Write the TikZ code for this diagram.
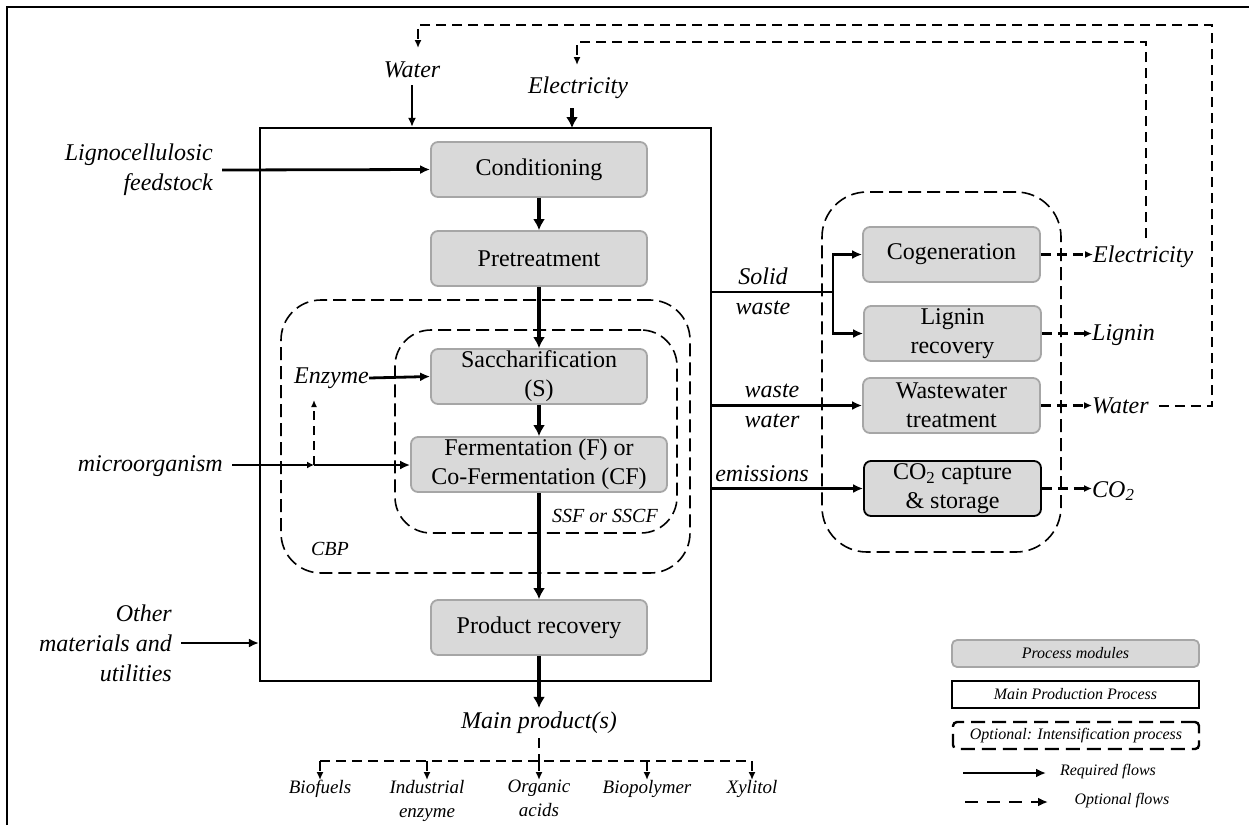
\documentclass[tikz,border=0pt]{standalone}
\usepackage{fontspec}
\setmainfont{Liberation Serif}
\usetikzlibrary{arrows.meta,calc}
\definecolor{modfill}{HTML}{D9D9D9}
\definecolor{modline}{HTML}{A6A6A6}
\newcommand{\bxf}{\fontsize{24}{29}\selectfont}
\newcommand{\lbf}{\fontsize{24}{30}\selectfont\itshape}
\newcommand{\smf}{\fontsize{20}{24}\selectfont\itshape}
\newcommand{\prf}{\fontsize{19}{24}\selectfont\itshape}
\newcommand{\lgf}{\fontsize{16}{19}\selectfont\itshape}
\tikzset{
  module/.style={draw=modline, fill=modfill, rounded corners=7pt, line width=1.8pt,
    minimum width=216pt, minimum height=55pt, inner sep=0pt, align=center, font=\bxf},
  lbl/.style={inner sep=0pt, align=center, font=\lbf},
  req/.style={line width=2.8pt, -{Latex[length=10pt,width=9pt]}},
  mainflow/.style={line width=3.8pt, -{Latex[length=11pt,width=12pt]}},
  reqline/.style={line width=2.8pt},
  opt/.style={line width=2.6pt, dash pattern=on 10pt off 6pt, -{Latex[length=8pt,width=7pt]}},
  optline/.style={line width=2.6pt, dash pattern=on 10pt off 6pt},
  optbox/.style={draw, line width=1.6pt, dash pattern=on 13pt off 6pt, rounded corners=40pt,
    inner sep=0pt},
}
\begin{document}
\begin{tikzpicture}[x=1pt,y=-1pt]
\useasboundingbox (0,0) rectangle (1249,825);
% frame
\draw[line width=2.2pt] (7,825) -- (7,7) -- (1249,7);

% main production box and optional boxes
\node[draw, line width=2.2pt, minimum width=451pt, minimum height=553pt, inner sep=0pt] (mainbox) at (485.5,404.5) {};
\node[optbox, minimum width=409pt, minimum height=273pt] (cbp) at (485.5,436.5) {};
\node[optbox, minimum width=282pt, minimum height=203pt, rounded corners=36pt] (ssf) at (536,431.5) {};
\node[optbox, minimum width=239pt, minimum height=360pt, rounded corners=45pt] (rbox) at (941.5,372) {};

% modules
\node[module] (cond) at (539,169.5) {Conditioning};
\node[module] (pret) at (539,258.5) {Pretreatment};
\node[module] (sacc) at (539,376.5) {Saccharification\\(S)};
\node[module, minimum width=256pt] (ferm) at (539,464.5) {Fermentation (F) or\\Co-Fermentation (CF)};
\node[module] (prod) at (539,627.5) {Product recovery};

\node[module, minimum width=177pt] (cogen) at (951.5,254.5) {Cogeneration};
\node[module, minimum width=177pt] (lign) at (952.5,333.5) {Lignin\\recovery};
\node[module, minimum width=177pt] (wwt) at (951.5,405.5) {Wastewater\\treatment};
\node[module, minimum width=177pt, draw=black] (ccs) at (952.5,488.5) {CO\textsubscript{2} capture\\\& storage};

% labels
\node[lbl] (waterlbl) at (412,70) {Water};
\node[lbl] (eleclbl) at (578,88) {Electricity};
\node[lbl, anchor=east, align=right] (feed) at (213,170) {Lignocellulosic\\feedstock};
\node[lbl, anchor=east] (micro) at (223,466) {microorganism};
\node[lbl, anchor=east, align=right] (other) at (172,643) {Other\\materials and\\utilities};
\node[lbl] (enz) at (331.5,378) {Enzyme};
\node[inner sep=0pt, font=\smf] (cbplbl) at (330,549) {CBP};
\node[inner sep=0pt, font=\smf] (ssflbl) at (605,516) {SSF or SSCF};
\node[lbl] (swlbl) at (763,291) {Solid\\waste};
\node[lbl] (wwlbl) at (772,406) {waste\\water};
\node[lbl] (emlbl) at (762,474) {emissions};
\node[lbl, anchor=west] (elecout) at (1093,257) {Electricity};
\node[lbl, anchor=west] (ligout) at (1092,335) {Lignin};
\node[lbl, anchor=west] (waterout) at (1092,406) {Water};
\node[lbl, anchor=west] (co2out) at (1092,491) {CO\textsubscript{2}};
\node[lbl] (mainprod) at (539,723) {Main product(s)};

% products
\node[inner sep=0pt, font=\prf, anchor=north] (biof) at (320,780) {Biofuels};
\node[inner sep=0pt, font=\prf, anchor=north, align=center] (indenz) at (427,780) {Industrial\\enzyme};
\node[inner sep=0pt, font=\prf, anchor=north, align=center] (orgac) at (539,780) {Organic\\acids};
\node[inner sep=0pt, font=\prf, anchor=north] (biopol) at (647,780) {Biopolymer};
\node[inner sep=0pt, font=\prf, anchor=north] (xyl) at (752,780) {Xylitol};

% coordinates
\coordinate (wdrop) at (418,48);
\coordinate (edrop) at (577,65);
\coordinate (estart) at (1146,238);
\coordinate (sw) at (833,292);
\coordinate (mid) at (314,465);
\coordinate (enzup) at (314,400);
\coordinate (pbar) at (539,761);
\coordinate (pl) at (320,761);
\coordinate (pr) at (752,761);

% main flow
\draw[mainflow] (cond.south) -- (pret.north);
\draw[mainflow] (pret.south) -- (sacc.north);
\draw[mainflow] (sacc.south) -- (ferm.north);
\draw[mainflow] (ferm.south) -- (prod.north);
\draw[mainflow] (prod.south) -- ([yshift=4pt]mainprod.north);

% inputs
\draw[line width=2.2pt, -{Latex[length=9pt,width=8pt]}] ([yshift=-7pt]waterlbl.south) -- (waterlbl.south |- mainbox.north);
\draw[mainflow] ([yshift=-9pt]eleclbl.south -| 572,0) -- (572,128);
\draw[req] ([xshift=9pt]feed.east) -- (cond.west);
\draw[req] ([xshift=9pt]other.east) -- (other.east -| mainbox.west);
\draw[line width=2.6pt, -{Latex[length=7pt,width=7pt]}] ([xshift=9pt]micro.east |- mid) -- (mid);
\draw[req] (mid) -- (mid -| ferm.west);
\draw[line width=2pt, dash pattern=on 9pt off 6pt, -{Latex[length=7pt,width=6pt]}] (mid) -- (enzup);
\draw[req] (enz.east) -- (sacc.west);

% outputs to right
\draw[reqline] (mainbox.east |- sw) -- (sw);
\draw[req] (sw) |- (cogen.west);
\draw[req] (sw) |- (lign.west);
\draw[req] (mainbox.east |- wwt.west) -- (wwt.west);
\draw[req] (mainbox.east |- ccs.west) -- (ccs.west);

\draw[opt] (cogen.east) -- (cogen.east -| elecout.west);
\draw[opt] (lign.east) -- (lign.east -| ligout.west);
\draw[opt] (wwt.east) -- (wwt.east -| waterout.west);
\draw[opt] (ccs.east) -- (ccs.east -| co2out.west);

% recycle loops
\draw[opt] ([xshift=10pt]waterout.east) -| (1212,25) -| (wdrop);
\draw[opt] (estart) |- (1146,42) -| (edrop);

% products
\draw[optline] ([yshift=-4pt]mainprod.south) -- (pbar);
\draw[optline] (pl) -- (pr);
\draw[opt] (pl) -- (biof.north);
\draw[opt] (indenz.north |- pl) -- (indenz.north);
\draw[opt] (pbar) -- (orgac.north);
\draw[opt] (biopol.north |- pl) -- (biopol.north);
\draw[opt] (pr) -- (xyl.north);

% legend
\node[module, minimum width=247pt, minimum height=27pt, rounded corners=5pt, font=\lgf] (lg1) at (1075.5,653.5) {Process modules};
\node[draw, line width=2.2pt, minimum width=247pt, minimum height=27pt, inner sep=0pt, font=\lgf] (lg2) at (1075.5,694.5) {Main Production Process};
\node[draw, line width=2.4pt, dash pattern=on 14pt off 7pt, rounded corners=4pt, minimum width=246pt, minimum height=27pt, inner sep=0pt, font=\lgf] (lg3) at (1076,735.5) {Optional: Intensification process};
\coordinate (r1) at (963,773);
\coordinate (r2) at (1046,773);
\coordinate (o1) at (965,802);
\coordinate (o2) at (1048,802);
\draw[line width=2.8pt, -{Latex[length=10pt,width=9pt]}] (r1) -- (r2);
\draw[line width=2.8pt, dash pattern=on 13pt off 9pt, -{Latex[length=10pt,width=9pt]}] (o1) -- (o2);
\node[inner sep=0pt, font=\lgf] (lgr) at (1108,772) {Required flows};
\node[inner sep=0pt, font=\lgf] (lgo) at (1122,801) {Optional flows};
\end{tikzpicture}
\end{document}
